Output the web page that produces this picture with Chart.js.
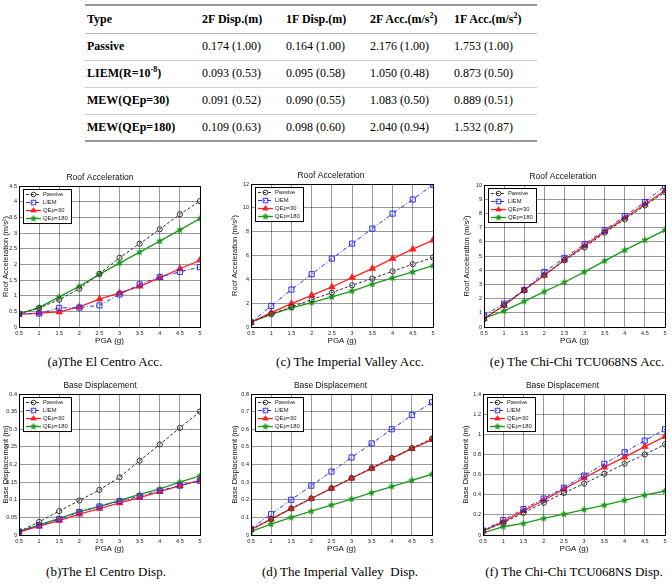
<!DOCTYPE html>
<html>
<head>
<meta charset="utf-8">
<script src="https://cdn.jsdelivr.net/npm/chart.js@4.4.1/dist/chart.umd.min.js"></script>
<style>
body { margin: 0; width: 672px; height: 588px; position: relative; background: #fff; overflow: hidden; font-family: "Liberation Sans", Arial, sans-serif; }
#tbl { position: absolute; left: 85px; top: 4px; width: 452px; border-collapse: collapse; font-family: "Liberation Serif", "Times New Roman", serif; font-size: 12px; color: #000; table-layout: fixed; }
#tbl td { padding: 0; white-space: nowrap; }
#tbl td:first-child { padding-left: 2px; font-weight: bold; }
#tbl tr.head td { font-weight: bold; }
#tbl sup { font-size: 8px; line-height: 0; }
canvas { position: absolute; }
.cap { position: absolute; width: 260px; text-align: center; font-family: "Liberation Serif", "Times New Roman", serif; font-size: 13px; line-height: 14px; white-space: pre; color: #000; }
</style>
</head>
<body>
<table id="tbl"></table>
<canvas id="c1"></canvas>
<canvas id="c2"></canvas>
<canvas id="c3"></canvas>
<canvas id="c4"></canvas>
<canvas id="c5"></canvas>
<canvas id="c6"></canvas>
<div class="cap" style="left:-25px;top:355px">(a)The El Centro Acc.</div>
<div class="cap" style="left:220px;top:355px">(c) The Imperial Valley Acc.</div>
<div class="cap" style="left:447px;top:355px">(e) The Chi-Chi TCU068NS Acc.</div>
<div class="cap" style="left:-24px;top:565px">(b)The El Centro Disp.</div>
<div class="cap" style="left:210px;top:565px">(d) The Imperial Valley  Disp.</div>
<div class="cap" style="left:444px;top:565px">(f) The Chi-Chi TCU068NS Disp.</div>
<script>
// table
const tableHeader = ['Type', '2F Disp.(m)', '1F Disp.(m)', '2F Acc.(m/s<sup>2</sup>)', '1F Acc.(m/s<sup>2</sup>)'];
const tableTypes = ['Passive', 'LIEM(R=10<sup>-8</sup>)', 'MEW(QEp=30)', 'MEW(QEp=180)'];
const disp2F = ['0.174 (1.00)', '0.093 (0.53)', '0.091 (0.52)', '0.109 (0.63)'];
const disp1F = ['0.164 (1.00)', '0.095 (0.58)', '0.090 (0.55)', '0.098 (0.60)'];
const acc2F = ['2.176 (1.00)', '1.050 (0.48)', '1.083 (0.50)', '2.040 (0.94)'];
const acc1F = ['1.753 (1.00)', '0.873 (0.50)', '0.889 (0.51)', '1.532 (0.87)'];

// charts
const pga = [0.5, 1, 1.5, 2, 2.5, 3, 3.5, 4, 4.5, 5];
const seriesNames = ['Passive', 'LIEM', 'QEp=30', 'QEp=180'];
// each: [passive, liem, qep30, qep180]
const elCentroAcc = [
    [0.42, 0.61, 0.87, 1.22, 1.70, 2.21, 2.66, 3.12, 3.60, 4.02],
    [0.42, 0.43, 0.61, 0.62, 0.69, 1.04, 1.36, 1.60, 1.76, 1.91],
    [0.40, 0.44, 0.48, 0.64, 0.89, 1.09, 1.30, 1.57, 1.86, 2.13],
    [0.42, 0.62, 0.96, 1.30, 1.68, 2.04, 2.39, 2.74, 3.10, 3.46]
];
const imperialAcc = [
    [0.40, 1.10, 1.68, 2.30, 2.88, 3.50, 4.06, 4.68, 5.27, 5.83],
    [0.40, 1.76, 3.14, 4.43, 5.74, 7.00, 8.26, 9.52, 10.70, 11.93],
    [0.40, 1.20, 1.96, 2.66, 3.36, 4.15, 4.90, 5.74, 6.53, 7.28],
    [0.40, 1.06, 1.60, 2.05, 2.52, 3.02, 3.59, 4.12, 4.62, 5.15]
];
const chichiAcc = [
    [0.55, 1.55, 2.58, 3.65, 4.70, 5.60, 6.64, 7.58, 8.56, 9.50],
    [0.82, 1.65, 2.60, 3.88, 4.87, 5.84, 6.82, 7.81, 8.80, 9.93],
    [0.60, 1.52, 2.60, 3.65, 4.72, 5.72, 6.72, 7.68, 8.65, 9.60],
    [0.60, 1.13, 1.81, 2.49, 3.15, 3.88, 4.66, 5.41, 6.12, 6.82]
];
const elCentroDisp = [
    [0.010, 0.037, 0.068, 0.098, 0.128, 0.164, 0.211, 0.257, 0.304, 0.350],
    [0.010, 0.027, 0.045, 0.065, 0.081, 0.096, 0.110, 0.126, 0.140, 0.154],
    [0.008, 0.025, 0.041, 0.059, 0.075, 0.091, 0.106, 0.123, 0.140, 0.155],
    [0.010, 0.029, 0.047, 0.066, 0.081, 0.098, 0.115, 0.131, 0.150, 0.168]
];
const imperialDisp = [
    [0.030, 0.090, 0.150, 0.207, 0.265, 0.323, 0.380, 0.437, 0.493, 0.547],
    [0.035, 0.118, 0.200, 0.280, 0.360, 0.440, 0.520, 0.600, 0.680, 0.753],
    [0.030, 0.090, 0.150, 0.207, 0.265, 0.322, 0.378, 0.435, 0.490, 0.540],
    [0.020, 0.062, 0.100, 0.135, 0.170, 0.204, 0.240, 0.275, 0.310, 0.345]
];
const chichiDisp = [
    [0.040, 0.120, 0.220, 0.320, 0.418, 0.510, 0.608, 0.707, 0.800, 0.900],
    [0.045, 0.148, 0.257, 0.362, 0.470, 0.590, 0.707, 0.822, 0.937, 1.050],
    [0.040, 0.130, 0.240, 0.345, 0.455, 0.566, 0.674, 0.773, 0.878, 0.977],
    [0.020, 0.082, 0.115, 0.164, 0.207, 0.253, 0.296, 0.345, 0.395, 0.437]
];

document.getElementById('tbl').innerHTML =
    '<colgroup><col style="width:117px"><col style="width:84px"><col style="width:84px"><col style="width:84px"><col style="width:83px"></colgroup>' +
    '<tr class="head" style="height:28px;border-top:2px solid #999;border-bottom:1px solid #bbb">' +
    tableHeader.map(h => `<td>${h}</td>`).join('') + '</tr>' +
    tableTypes.map((t, i) => {
        const last = i === tableTypes.length - 1;
        const border = last ? 'border-bottom:2px solid #999' : 'border-bottom:1px solid #ccc';
        return `<tr style="height:27px;${border}"><td>${t}</td><td>${disp2F[i]}</td><td>${disp1F[i]}</td><td>${acc2F[i]}</td><td>${acc1F[i]}</td></tr>`;
    }).join('');

Chart.defaults.font.family = '"Liberation Sans", Arial, sans-serif';
Chart.defaults.color = '#222';

function starImg(color) {
    const c = document.createElement('canvas');
    c.width = 8; c.height = 8;
    const g = c.getContext('2d');
    g.fillStyle = color;
    g.beginPath();
    for (let i = 0; i < 10; i++) {
        const r = i % 2 ? 1.7 : 4;
        const a = -Math.PI / 2 + i * Math.PI / 5;
        g.lineTo(4 + r * Math.cos(a), 4 + r * Math.sin(a));
    }
    g.closePath();
    g.fill();
    return c;
}
const greenStar = starImg('#1a9a1a');

const seriesStyle = [
    { borderColor: '#333', borderDash: [3, 2], pointStyle: 'circle', pointRadius: 2.6, pointBackgroundColor: 'rgba(0,0,0,0)', pointBorderColor: '#333', borderWidth: 1 },
    { borderColor: '#2a2aff', borderDash: [4, 2, 1, 2], pointStyle: 'rect', pointRadius: 3.6, pointBackgroundColor: 'rgba(0,0,0,0)', pointBorderColor: '#2a2aff', borderWidth: 1 },
    { borderColor: '#ff2020', borderDash: [], pointStyle: 'triangle', pointRadius: 3.2, pointBackgroundColor: '#ff2020', pointBorderColor: '#ff2020', borderWidth: 1.3 },
    { borderColor: '#1a9a1a', borderDash: [], pointStyle: greenStar, pointRadius: 3, pointBackgroundColor: '#1a9a1a', pointBorderColor: '#1a9a1a', borderWidth: 1.3 }
];

// legend drawn inside the plot box, matlab style
const boxLegend = {
    id: 'boxLegend',
    afterDatasetsDraw(chart) {
        const { ctx, chartArea } = chart;
        const x0 = chartArea.left + 4, y0 = chartArea.top + 3;
        const rowH = 8, w = 48, h = rowH * 4 + 2;
        ctx.save();
        ctx.fillStyle = '#fff';
        ctx.fillRect(x0, y0, w, h);
        ctx.strokeStyle = '#000';
        ctx.lineWidth = 1;
        ctx.strokeRect(x0 + 0.5, y0 + 0.5, w, h);
        chart.data.datasets.forEach((ds, i) => {
            const y = y0 + 1.5 + rowH * i + rowH / 2;
            ctx.strokeStyle = ds.borderColor;
            ctx.lineWidth = ds.borderWidth;
            ctx.setLineDash(ds.borderDash);
            ctx.beginPath();
            ctx.moveTo(x0 + 3, y);
            ctx.lineTo(x0 + 18, y);
            ctx.stroke();
            ctx.setLineDash([]);
            ctx.fillStyle = ds.pointBackgroundColor;
            ctx.strokeStyle = ds.pointBorderColor;
            ctx.lineWidth = 1;
            Chart.helpers.drawPoint(ctx, { pointStyle: ds.pointStyle, radius: ds.pointRadius * 0.9, rotation: 0, borderWidth: 1 }, x0 + 10.5, y);
            ctx.fillStyle = '#222';
            ctx.font = '5.8px "Liberation Sans", Arial, sans-serif';
            ctx.textBaseline = 'middle';
            ctx.fillText(ds.label, x0 + 20, y);
        });
        ctx.restore();
    }
};

const frame = {
    id: 'frame',
    afterDraw(chart) {
        const { ctx, chartArea: a } = chart;
        ctx.save();
        ctx.strokeStyle = '#000';
        ctx.lineWidth = 1;
        ctx.strokeRect(Math.round(a.left) + 0.5, Math.round(a.top) + 0.5, Math.round(a.right - a.left), Math.round(a.bottom - a.top));
        ctx.restore();
    }
};

const fmt = v => String(Math.round(v * 1000) / 1000);

function makeChart(id, pos, title, yTitle, yMax, yStep, values) {
    const canvas = document.getElementById(id);
    canvas.width = pos.w;
    canvas.height = pos.h;
    canvas.style.left = pos.x + 'px';
    canvas.style.top = pos.y + 'px';
    return new Chart(canvas, {
        type: 'line',
        data: {
            datasets: values.map((vals, i) => Object.assign({
                label: seriesNames[i],
                data: pga.map((x, j) => ({ x: x, y: vals[j] })),
                fill: false,
                tension: 0
            }, seriesStyle[i]))
        },
        options: {
            responsive: false,
            animation: false,
            layout: { padding: { left: 0, right: pos.padR, top: 0, bottom: 0 } },
            plugins: {
                legend: { display: false },
                tooltip: { enabled: false },
                title: { display: true, text: title, color: '#111', font: { size: 8.5, weight: 'normal', lineHeight: 1.18 }, padding: { top: 3, bottom: 3 } }
            },
            scales: {
                x: {
                    type: 'linear', min: 0.5, max: 5,
                    ticks: { stepSize: 0.5, autoSkip: false, maxRotation: 0, padding: 3, font: { size: 5.5 }, callback: fmt },
                    grid: { color: 'rgba(0,0,0,0.4)', drawTicks: false },
                    border: { color: '#000' },
                    title: { display: true, text: 'PGA (g)', color: '#111', font: { size: 8 }, padding: { top: 0, bottom: 2 } },
                    afterFit: s => { s.height = 21; }
                },
                y: {
                    min: 0, max: yMax,
                    ticks: { stepSize: yStep, autoSkip: false, padding: 2, font: { size: 5.5 }, callback: fmt },
                    grid: { color: 'rgba(0,0,0,0.4)', drawTicks: false },
                    border: { color: '#000' },
                    title: { display: true, text: yTitle, color: '#111', font: { size: 7.5 }, padding: { top: 1, bottom: 0 } },
                    afterFit: s => { s.width = pos.yW; }
                }
            }
        },
        plugins: [boxLegend, frame]
    });
}

const accTitle = 'Roof Acceleration (m/s\u00b2)';
const dispTitle = 'Base Displacement (m)';
makeChart('c1', { x: 0, y: 170, w: 220, h: 178, yW: 19, padR: 20 }, 'Roof Acceleration', accTitle, 4.5, 0.5, elCentroAcc);
makeChart('c2', { x: 229, y: 168, w: 224, h: 180, yW: 22, padR: 20 }, 'Roof Acceleration', accTitle, 12, 2, imperialAcc);
makeChart('c3', { x: 461, y: 169, w: 211, h: 179, yW: 23, padR: 7 }, 'Roof Acceleration', accTitle, 10, 1, chichiAcc);
makeChart('c4', { x: 0, y: 378, w: 220, h: 178, yW: 19, padR: 20 }, 'Base Displacement', dispTitle, 0.4, 0.05, elCentroDisp);
makeChart('c5', { x: 229, y: 378, w: 223, h: 178, yW: 22, padR: 20 }, 'Base Displacement', dispTitle, 0.8, 0.1, imperialDisp);
makeChart('c6', { x: 460, y: 378, w: 212, h: 178, yW: 23, padR: 7 }, 'Base Displacement', dispTitle, 1.4, 0.2, chichiDisp);
</script>
</body>
</html>
